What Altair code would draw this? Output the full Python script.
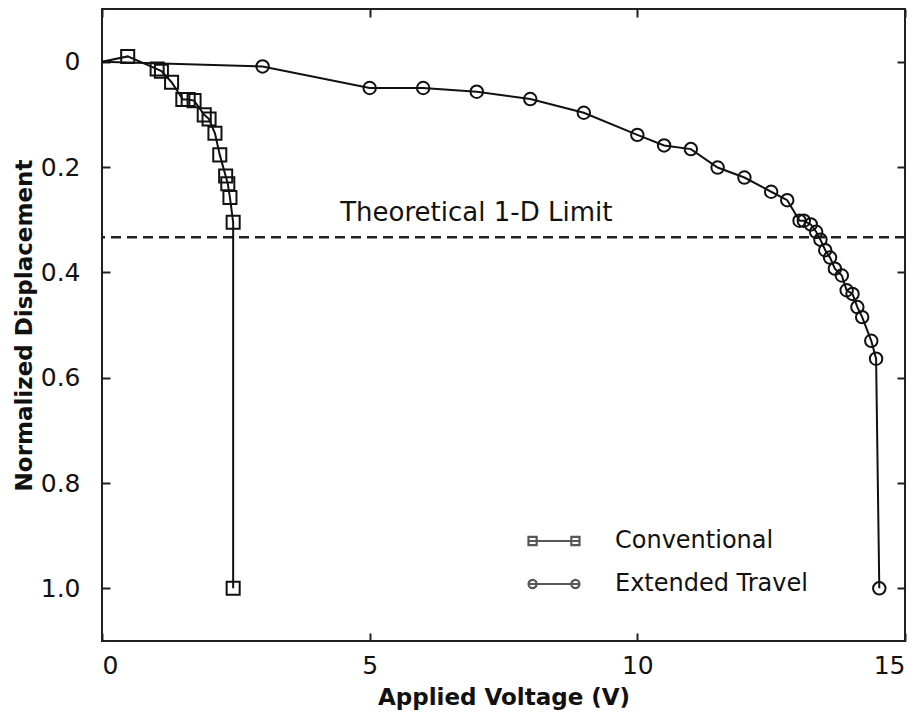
import altair as alt
import pandas as pd

# ---------------- data ----------------
conv_v = [0.0, 0.48, 1.03, 1.11, 1.30, 1.51, 1.61, 1.72, 1.91, 2.00, 2.11, 2.20, 2.31, 2.35, 2.39, 2.45, 2.45]
conv_d = [0.0, -0.01, 0.014, 0.018, 0.039, 0.072, 0.072, 0.074, 0.101, 0.109, 0.136, 0.177, 0.217, 0.232, 0.258, 0.305, 1.00]

ext_v = [0.0, 3.0, 5.0, 6.0, 7.0, 8.0, 9.0, 10.0, 10.5, 11.0, 11.5, 12.0, 12.5, 12.8,
         13.03, 13.11, 13.24, 13.34, 13.42, 13.51, 13.60, 13.69, 13.82, 13.91, 14.02,
         14.11, 14.20, 14.37, 14.46, 14.52]
ext_d = [0.0, 0.009, 0.050, 0.050, 0.057, 0.071, 0.097, 0.139, 0.159, 0.166, 0.201, 0.220, 0.247, 0.263,
         0.302, 0.302, 0.309, 0.323, 0.338, 0.358, 0.372, 0.393, 0.406, 0.434, 0.441,
         0.466, 0.485, 0.530, 0.564, 1.00]

series_names = ["Conventional", "Extended Travel"]
limit_value = 1 / 3
limit_label = "Theoretical 1-D Limit"
label_pos = [4.45, 0.303]

x_ticks = [0, 5, 10, 15]
y_ticks = [0, 0.2, 0.4, 0.6, 0.8, 1.0]

INK = "#111111"
FRAME = "#231f20"
FONT = "DejaVu Sans"

# ---------------- tables ----------------
conv = pd.DataFrame({"v": conv_v, "d": conv_d, "series": series_names[0]})
ext = pd.DataFrame({"v": ext_v, "d": ext_d, "series": series_names[1]})
conv["i"] = range(len(conv))
ext["i"] = range(len(ext))
lines_df = pd.concat([conv, ext], ignore_index=True)
conv_pts = conv[conv["v"] > 0]
ext_pts = ext[ext["v"] > 0]

xs = alt.Scale(domain=[0, 15], nice=False, zero=False)
ys = alt.Scale(domain=[-0.1, 1.1], reverse=True, nice=False, zero=False)

inward = {"expr": "-8"}

main_x_axis = alt.Axis(values=x_ticks, title="Applied Voltage (V)", grid=False, domain=False,
                       tickSize=inward, labelPadding=20, titlePadding=8)
main_y_axis = alt.Axis(values=y_ticks, title="Normalized Displacement", grid=False, domain=False,
                       tickSize=inward, labelPadding=30, titlePadding=4,
                       labelExpr="datum.value == 0 ? '0' : format(datum.value, '.1f')")

lines = alt.Chart(lines_df).mark_line(color=INK, strokeWidth=2).encode(
    x=alt.X("v:Q", scale=xs, axis=main_x_axis),
    y=alt.Y("d:Q", scale=ys, axis=main_y_axis),
    detail="series:N",
    order="i:Q",
)

conv_marks = alt.Chart(conv_pts).mark_point(shape="square", filled=False, color=INK,
                                            strokeWidth=2, size=170, opacity=1).encode(
    x=alt.X("v:Q", scale=xs, axis=None),
    y=alt.Y("d:Q", scale=ys, axis=None),
)

ext_marks = alt.Chart(ext_pts).mark_point(shape="circle", filled=False, color=INK,
                                          strokeWidth=2, size=155, opacity=1).encode(
    x=alt.X("v:Q", scale=xs, axis=None),
    y=alt.Y("d:Q", scale=ys, axis=None),
)

# mirrored tick axes on top and right
mirror = alt.Chart(lines_df).mark_point(opacity=0).encode(
    x=alt.X("v:Q", scale=xs, axis=alt.Axis(orient="top", values=x_ticks, labels=False, title=None,
                                            grid=False, domain=False, tickSize=inward)),
    y=alt.Y("d:Q", scale=ys, axis=alt.Axis(orient="right", values=y_ticks, labels=False, title=None,
                                            grid=False, domain=False, tickSize=inward)),
)

limit_df = pd.DataFrame({"d": [limit_value]})
limit = alt.Chart(limit_df).mark_rule(color=FRAME, strokeWidth=2.5, strokeDash=[10, 6]).encode(
    y=alt.Y("d:Q", scale=ys, axis=None),
)

label_df = pd.DataFrame({"v": [label_pos[0]], "d": [label_pos[1]], "t": [limit_label]})
label = alt.Chart(label_df).mark_text(align="left", baseline="alphabetic", fontSize=26,
                                      font=FONT, color=INK).encode(
    x=alt.X("v:Q", scale=xs, axis=None),
    y=alt.Y("d:Q", scale=ys, axis=None),
    text="t:N",
)

sq_path = ("M-1,0H1 M-1,-0.16H-0.68V0.16H-1Z M0.68,-0.16H1V0.16H0.68Z")
ci_path = ("M-1,0H1 M-0.68,0A0.16,0.16 0 1,1 -1,0A0.16,0.16 0 1,1 -0.68,0Z "
           "M1,0A0.16,0.16 0 1,1 0.68,0A0.16,0.16 0 1,1 1,0Z")

legend_df = pd.DataFrame({"series": series_names})
legend_layer = alt.Chart(legend_df).mark_point(filled=False, color=INK).encode(
    shape=alt.Shape("series:N",
                    scale=alt.Scale(domain=series_names, range=[sq_path, ci_path]),
                    legend=alt.Legend(title=None, orient="none", legendX=425, legendY=513,
                                      symbolSize=2601, symbolStrokeWidth=2.2,
                                      symbolStrokeColor=INK, symbolFillColor="transparent",
                                      labelFontSize=24, labelFont=FONT, labelColor=INK,
                                      labelLimit=400,
                                      labelOffset=34, clipHeight=38, rowPadding=5,
                                      padding=0)),
).transform_filter("false")

chart = alt.layer(
    limit, lines, conv_marks, ext_marks, label, mirror, legend_layer
).resolve_axis(x="independent", y="independent").properties(
    width=803, height=632,
    autosize=alt.AutoSizeParams(type="none"),
    padding={"left": 94, "top": 1, "right": 4, "bottom": 70},
).configure_view(
    stroke=FRAME, strokeWidth=2
).configure_axis(
    labelFont=FONT, labelFontSize=25, labelColor=INK,
    titleFont=FONT, titleFontSize=23, titleFontWeight="bold", titleColor=INK,
    tickColor=FRAME, tickWidth=2,
)

chart.save("out.html", embed_options={"renderer": "svg", "actions": False})
